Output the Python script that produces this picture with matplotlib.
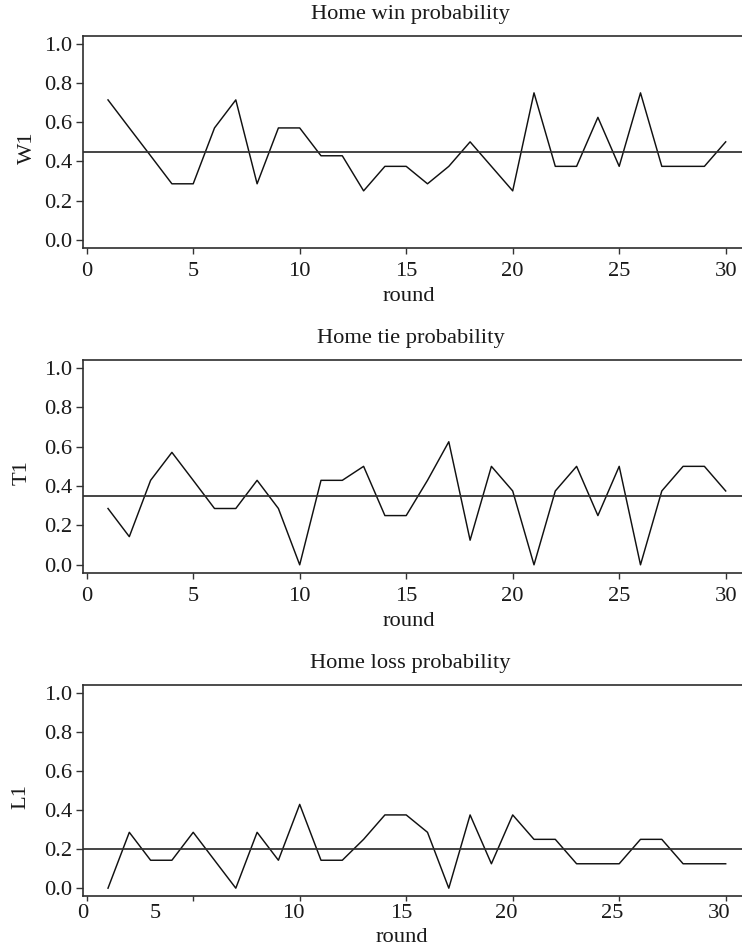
import matplotlib
matplotlib.use("Agg")
import matplotlib.pyplot as plt
import matplotlib.transforms as mtransforms
import numpy as np

plt.rcParams['font.family'] = ['Liberation Serif', 'DejaVu Serif']

rounds = list(range(1, 31))
W1 = [0.714, 0.571, 0.429, 0.286, 0.286, 0.571, 0.714, 0.286, 0.571, 0.571,
      0.429, 0.429, 0.250, 0.375, 0.375, 0.286, 0.375, 0.500, 0.375, 0.250,
      0.750, 0.375, 0.375, 0.625, 0.375, 0.750, 0.375, 0.375, 0.375, 0.500]
T1 = [0.286, 0.143, 0.429, 0.571, 0.429, 0.286, 0.286, 0.429, 0.286, 0.000,
      0.429, 0.429, 0.500, 0.250, 0.250, 0.429, 0.625, 0.125, 0.500, 0.375,
      0.000, 0.375, 0.500, 0.250, 0.500, 0.000, 0.375, 0.500, 0.500, 0.375]
L1 = [0.000, 0.286, 0.143, 0.143, 0.286, 0.143, 0.000, 0.286, 0.143, 0.429,
      0.143, 0.143, 0.250, 0.375, 0.375, 0.286, 0.000, 0.375, 0.125, 0.375,
      0.250, 0.250, 0.125, 0.125, 0.125, 0.250, 0.250, 0.125, 0.125, 0.125]

titles = ["Home win probability", "Home tie probability", "Home loss probability"]
ylabels = ["W1", "T1", "L1"]
series = [W1, T1, L1]
xticks = [0, 5, 10, 15, 20, 25, 30]
xticklabels = ["0", "5", "10", "15", "20", "25", "30"]
yticks = [0.0, 0.2, 0.4, 0.6, 0.8, 1.0]
yticklabels = ["0.0", "0.2", "0.4", "0.6", "0.8", "1.0"]

W, H = 742, 947
fig = plt.figure(figsize=(W / 100, H / 100), dpi=100)

FS = 16.2
TXT = '#1a1a1a'
left_px, right_px = 83.3, 750.4
panels_px = [(36.0, 247.7), (360.0, 572.7), (685.0, 896.0)]
ylab_x_px = [27, 22, 21]

for i, (top, bot) in enumerate(panels_px):
    ax = fig.add_axes([left_px / W, 1 - bot / H, (right_px - left_px) / W, (bot - top) / H])
    y = series[i]
    ax.plot(rounds, y, color='#111111', lw=1.05)
    ax.axhline(np.mean(y), color='#2e2e2e', lw=1.25)
    ax.set_xlim(1 - 0.04 * 29, 30 + 0.04 * 29)
    ax.set_ylim(-0.04, 1.04)
    for s in ax.spines.values():
        s.set_color('#2e2e2e')
        s.set_linewidth(1.2)
    ax.set_yticks(yticks)
    ax.set_yticklabels(yticklabels)
    ax.tick_params(axis='y', direction='out', length=4.7, width=1.0, color='#333333',
                   labelsize=FS, labelcolor=TXT, pad=3.2)
    ax.tick_params(axis='x', direction='out', length=3.8 if i == 2 else 4.0, width=1.0,
                   color='#333333', labelsize=FS, labelcolor=TXT, pad=6.5)
    ax.set_xticks(xticks)
    axw = right_px - left_px
    axh = bot - top
    if i < 2:
        ax.set_xticklabels(xticklabels)
        ax.set_xlabel('round', fontsize=FS, color=TXT, va='center')
        ax.xaxis.set_label_coords((409 - left_px) / axw, -49 / axh)
    else:
        ax.set_xticklabels([""] * len(xticks))
        # labels in the reference sit slightly off their ticks
        dx_px = [-4, -38, -6, -5, -6, -7, -7]
        trans = mtransforms.blended_transform_factory(ax.transData, ax.transAxes)
        for xt, lab, dx in zip(xticks, xticklabels, dx_px):
            off = mtransforms.ScaledTranslation(dx / 100, 0, fig.dpi_scale_trans)
            ax.text(xt, -17 / axh, lab, transform=trans + off, ha='center', va='center',
                    fontsize=FS, color=TXT)
        ax.set_xlabel('round', fontsize=FS, color=TXT, va='center')
        ax.xaxis.set_label_coords((402 - left_px) / axw, -41 / axh)
    ax.set_ylabel(ylabels[i], fontsize=FS, color=TXT, va='center')
    ax.yaxis.set_label_coords((ylab_x_px[i] - left_px) / axw, 0.47)
    ax.set_title(titles[i], fontsize=FS, color=TXT, x=(410.5 - left_px) / axw,
                 y=1 + 21.5 / axh, va='center', pad=0)

fig.savefig('out.png', dpi=100)
